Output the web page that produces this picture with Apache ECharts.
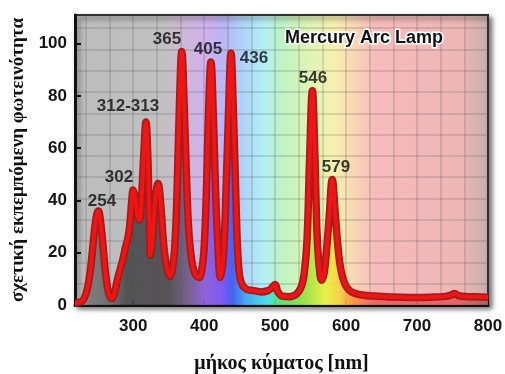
<!DOCTYPE html>
<html>
<head>
<meta charset="utf-8">
<script src="https://cdn.jsdelivr.net/npm/echarts@6/dist/echarts.min.js"></script>
<style>
    html, body { margin: 0; padding: 0; background: #fff; }
    #chart { width: 505px; height: 374px; }
</style>
</head>
<body>
<div id="chart"></div>
<script>
// spectrum: wavelength (nm) and relative intensity
const wavelength = [
    218, 226, 231, 236, 240, 243, 246, 249, 251, 253, 256, 259, 262, 266,
    270, 274, 278, 282, 286, 289, 292, 295, 298, 300, 303, 306, 309,
    312, 315, 318, 320.5, 322.5, 324.5, 327, 331, 335, 339, 343, 347, 352,
    356, 359, 362, 365, 368.5, 372, 375, 378, 382, 387, 393,
    397, 400, 403, 406, 409.6, 413, 416, 419, 423,
    427, 431, 434.5, 437.8, 441, 444, 447, 450, 454, 460, 470, 480, 490,
    495, 500, 504, 510, 520, 530, 537, 541, 545, 548.5, 552.5, 556, 559, 562,
    565.5, 569, 572.5, 576, 580.5, 585, 589, 593, 598, 604, 612, 625, 640,
    660, 690, 720, 740, 748, 753, 758, 770, 790, 800
]
const intensity = [
    0.8, 1.2, 2.5, 7, 14, 22, 30, 35, 36, 34, 27, 18, 10, 4,
    2.5, 5, 10, 14, 18, 22, 25, 30, 40, 44, 41, 34, 32.5,
    42, 58, 70, 58, 36, 19, 24, 40, 46.5, 38, 23, 15, 11,
    15, 24, 45, 75, 97, 75, 50, 30, 18, 12, 10.5,
    14, 22, 42, 72, 93, 72, 45, 25, 10.5,
    18, 45, 75, 96.5, 76, 48, 22, 11, 7.5, 6, 5.5, 5, 5.5,
    6.5, 7.8, 5, 3.4, 3.2, 4.2, 7, 12, 25, 55, 82, 58, 28, 15,
    9.5, 12, 21, 33, 48, 34, 21, 13, 8.3, 5.8, 4.5, 3.7, 3.4,
    3.1, 2.9, 3, 3.3, 3.8, 4.4, 3.6, 3.2, 3.1, 3
]

// peak labels and where their text sits (data coordinates)
const peakNames = ['254', '302', '312-313', '365', '405', '436', '546', '579']
const peakLabelX = [256, 280, 292.7, 347.7, 405.4, 470.3, 553.4, 585.8]
const peakLabelY = [39.8, 49, 76.2, 101.8, 98, 94.5, 86.9, 52.8]

const xTicks = [300, 400, 500, 600, 700, 800]
const yTicks = [0, 20, 40, 60, 80, 100]

const curve = wavelength.map((w, i) => [w, intensity[i]])
const peaks = peakNames.map((n, i) => ({ name: n, value: [peakLabelX[i], peakLabelY[i]] }))

const myChart = echarts.init(document.getElementById('chart'))

const bgGradient = new echarts.graphic.LinearGradient(0, 0, 1, 0, [
    { offset: 0, color: '#bcbcbc' },
    { offset: 0.20, color: '#c0c0c0' },
    { offset: 0.23, color: '#c6bec6' },
    { offset: 0.254, color: '#cdb8d0' },
    { offset: 0.314, color: '#d0b2ec' },
    { offset: 0.363, color: '#b8b6f6' },
    { offset: 0.412, color: '#b0d6f8' },
    { offset: 0.46, color: '#b2f0f4' },
    { offset: 0.497, color: '#bdf3c6' },
    { offset: 0.569, color: '#def5b4' },
    { offset: 0.629, color: '#f6f0b0' },
    { offset: 0.679, color: '#f8d4b4' },
    { offset: 0.727, color: '#f6bcbc' },
    { offset: 0.93, color: '#efb6b6' },
    { offset: 1, color: '#c6aeae' }
])

const areaGradient = new echarts.graphic.LinearGradient(0, 0, 1, 0, [
    { offset: 0, color: '#9a9a9a' },
    { offset: 0.038, color: '#777777' },
    { offset: 0.09, color: '#666666' },
    { offset: 0.124, color: '#4a4a4a' },
    { offset: 0.227, color: '#4e4a50' },
    { offset: 0.27, color: '#6c5a80' },
    { offset: 0.313, color: '#8a5cd8' },
    { offset: 0.356, color: '#7a50f0' },
    { offset: 0.381, color: '#3c5af0' },
    { offset: 0.416, color: '#40a8f0' },
    { offset: 0.467, color: '#40e0e8' },
    { offset: 0.493, color: '#50e070' },
    { offset: 0.553, color: '#90e040' },
    { offset: 0.605, color: '#e8f040' },
    { offset: 0.639, color: '#f8d040' },
    { offset: 0.674, color: '#f89040' },
    { offset: 0.725, color: '#f06060' },
    { offset: 0.93, color: '#e06060' },
    { offset: 1, color: '#a06060' }
])

const numFont = { fontFamily: 'Liberation Sans, Arial, sans-serif', fontWeight: 'bold', fontSize: 17, color: '#151515' }
const serif = 'Liberation Serif, Times New Roman, serif'
const gridLine = { show: true, lineStyle: { color: 'rgba(80,80,80,0.18)', width: 2 } }

const option = {
    animation: false,
    backgroundColor: '#fff',
    title: {
        text: 'Mercury Arc Lamp',
        left: 280,
        top: 24,
        textStyle: {
            fontFamily: 'Liberation Sans, Arial, sans-serif',
            fontWeight: 'bold',
            fontSize: 18,
            color: '#111',
            textBorderColor: '#fff',
            textBorderWidth: 3
        }
    },
    grid: {
        left: 75,
        right: 17,
        top: 15,
        bottom: 69,
        outerBoundsMode: 'none',
        show: true,
        backgroundColor: bgGradient,
        borderColor: '#2a2a2a',
        borderWidth: 2,
        shadowColor: 'rgba(0,0,0,0.55)',
        shadowBlur: 5,
        shadowOffsetX: 3,
        shadowOffsetY: 3
    },
    xAxis: [
        {
            type: 'value',
            min: 218,
            max: 800,
            splitNumber: 6,
            name: 'μήκος κύματος [nm]',
            nameLocation: 'middle',
            nameGap: 49,
            nameTextStyle: { fontFamily: serif, fontWeight: 'bold', fontSize: 20, color: '#111' },
            axisLine: { lineStyle: { color: '#111', width: 3 } },
            axisTick: { inside: true, length: 5, lineStyle: { color: '#111', width: 2 }, customValues: xTicks },
            axisLabel: Object.assign({ margin: 13, customValues: xTicks }, numFont),
            splitLine: { show: false }
        },
        {
            // decorative grid, one line every 33.3 nm
            type: 'value',
            min: 0.54,
            max: 18,
            splitNumber: 18,
            axisLine: { show: false },
            axisTick: { show: false },
            axisLabel: { show: false },
            splitLine: gridLine
        }
    ],
    yAxis: [
        {
            type: 'value',
            min: 0,
            max: 111,
            name: 'σχετική εκπεμπόμενη φωτεινότητα',
            nameLocation: 'middle',
            nameGap: 47,
            nameTextStyle: { fontFamily: serif, fontWeight: 'bold', fontSize: 19, color: '#111' },
            axisLine: { show: true, lineStyle: { color: '#111', width: 3 } },
            axisTick: { show: true, inside: true, length: 6, lineStyle: { color: '#111', width: 2 }, customValues: yTicks },
            axisLabel: Object.assign({ margin: 8, customValues: yTicks }, numFont),
            splitLine: { show: false }
        },
        {
            type: 'value',
            min: 0,
            max: 13.62,
            splitNumber: 14,
            axisLine: { show: false },
            axisTick: { show: false },
            axisLabel: { show: false },
            splitLine: gridLine
        }
    ],
    series: [
        {
            name: 'edge',
            type: 'line',
            data: curve,
            smooth: 0.4,
            symbol: 'none',
            lineStyle: { color: '#a81a1a', width: 7.5 },
            areaStyle: { color: areaGradient, opacity: 0.92 },
            z: 2
        },
        {
            name: 'spectrum',
            type: 'line',
            data: curve,
            smooth: 0.4,
            symbol: 'none',
            lineStyle: { color: '#ee1515', width: 4 },
            z: 3
        },
        {
            name: 'peaks',
            type: 'scatter',
            data: peaks,
            symbolSize: 0,
            z: 4,
            label: Object.assign({
                show: true,
                position: 'inside',
                formatter: (p) => p.name
            }, numFont, { color: '#0d0d0d' })
        }
    ]
}

myChart.setOption(option)
</script>
</body>
</html>
